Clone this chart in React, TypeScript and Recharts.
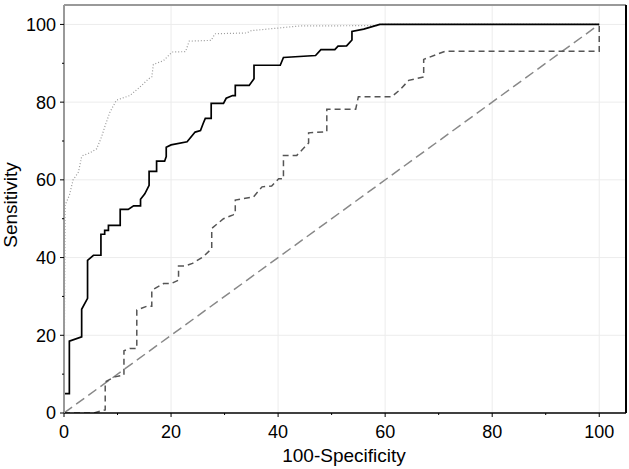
import React from 'react';
import {
  LineChart, Line, XAxis, YAxis, CartesianGrid, ReferenceLine, Label
} from 'recharts';

// ROC curves, [100-specificity, sensitivity]
const solidRoc: [number, number][] = [
  [0, 0], [0, 5], [1, 5], [1, 18.5], [3.3, 19.6], [3.3, 26.7], [4.4, 29.5], [4.4, 39.3],
  [5.5, 40.6], [6.9, 40.6], [6.9, 46], [7.6, 46], [7.6, 47], [8.3, 47], [8.3, 48.3],
  [10.5, 48.3], [10.5, 52.4], [12, 52.4], [13, 53.3], [14.3, 53.3], [14.3, 55], [15.1, 56.4],
  [15.9, 58.6], [15.9, 62.2], [17.3, 62.2], [17.3, 64.8], [18.8, 64.8], [19.1, 66],
  [19.1, 68.4], [20, 69], [23, 69.8], [24.5, 72.3], [25.5, 72.7], [26, 74.5], [26.4, 75.8],
  [27.5, 75.8], [27.5, 79.7], [29.8, 79.7], [30.3, 81], [31.5, 81.7], [32, 81.7], [32, 84.3],
  [34.6, 84.3], [35.5, 86], [35.5, 89.5], [40.4, 89.5], [41, 91.5], [47, 92], [48, 93.5],
  [50.6, 93.5], [51.2, 94.4], [52.8, 94.5], [53.8, 96], [53.8, 98.2], [56, 98.8], [59, 100],
  [100, 100],
];

const dottedRoc: [number, number][] = [
  [0, 0], [0.2, 53.5], [1, 56], [1.7, 60], [2.2, 61], [2.7, 62], [3.3, 66], [3.6, 66.3],
  [4.9, 67], [6.1, 68], [7, 71], [7.7, 74], [8.6, 77.5], [9.8, 80.5], [12.3, 81.7],
  [14.2, 83.9], [15.8, 86], [16.4, 86.5], [16.7, 89.7], [18.6, 90.7], [20.2, 92.9],
  [22.7, 93], [23.4, 95.7], [27.5, 95.9], [28.2, 97.6], [34.1, 97.8], [35, 98.4],
  [44, 99.6], [58.5, 99.7], [59, 100], [100, 100],
];

const dashedRoc: [number, number][] = [
  [0, 0], [5.5, 0], [7.7, 0.8], [7.7, 8], [9.5, 9.3], [11.2, 9.8], [11.2, 16], [12.3, 16.6],
  [13.6, 16.6], [13.6, 26.5], [15.5, 27.5], [16.4, 27.5], [16.4, 31.6], [18.6, 33.3],
  [20, 33.3], [21.4, 34.2], [21.4, 37.8], [22.5, 37.8], [24, 38.5], [26, 40.2], [27.6, 42.3],
  [27.6, 47.5], [29.8, 50], [31.6, 51], [32, 51.3], [32, 54.8], [35.4, 55.6], [37, 58.2],
  [38.8, 58.4], [40.1, 60.3], [41, 60.3], [41, 66.3], [43.5, 66.3], [45.7, 69.5],
  [45.7, 72.1], [49.1, 72.4], [49.1, 78.2], [54.5, 78.2], [55, 81.4], [61.2, 81.4],
  [62.8, 83.2], [64.4, 85.6], [67.2, 86.5], [67.2, 91], [71.2, 93.1], [100, 93.1], [100, 100],
];

const chanceLine: [number, number][] = [[0, 0], [100, 100]];

const axisTicks = [0, 10, 20, 30, 40, 50, 60, 70, 80, 90, 100];
const gridValues = [20, 40, 60, 80, 100];

const toRows = (pts: [number, number][]) => pts.map(([x, y]) => ({ x, y }));

const FONT = '"Liberation Sans", Arial, Helvetica, sans-serif';

const YTick = ({ x, y, payload }: any) => {
  const v = payload.value;
  const major = v % 20 === 0;
  return (
    <g>
      <line x1={x - (major ? 4 : 2)} x2={x} y1={y} y2={y} stroke="#000" />
      {major && (
        <text x={x - 8} y={y} dy="0.36em" textAnchor="end" fontSize={18} fontFamily={FONT} fill="#000">
          {v}
        </text>
      )}
    </g>
  );
};

const XTick = ({ x, y, payload }: any) => {
  const v = payload.value;
  const major = v % 20 === 0;
  return (
    <g>
      <line x1={x} x2={x} y1={y} y2={y + (major ? 4 : 2)} stroke="#000" />
      {major && (
        <text x={x} y={y + 25} textAnchor="middle" fontSize={18} fontFamily={FONT} fill="#000">
          {v}
        </text>
      )}
    </g>
  );
};

export default function App() {
  return (
    <div style={{ position: 'absolute', left: 0, top: 0, background: '#fff' }}>
      <LineChart width={629} height={469} margin={{ top: 5, right: 3, bottom: 0, left: 4 }}>
        <CartesianGrid
          stroke="#ececec"
          horizontalValues={gridValues}
          verticalValues={gridValues}
        />
        <XAxis
          dataKey="x"
          type="number"
          domain={[0, 105]}
          ticks={axisTicks}
          interval={0}
          height={56}
          tickSize={0}
          tickMargin={0}
          tickLine={false}
          tick={<XTick />}
          axisLine={{ stroke: '#000', strokeWidth: 1.5 }}
          allowDataOverflow
        >
          <Label
            content={() => (
              <text x={344} y={462} textAnchor="middle" fontSize={19} fontFamily={FONT} fill="#000">
                100-Specificity
              </text>
            )}
          />
        </XAxis>
        <YAxis
          dataKey="y"
          type="number"
          domain={[0, 105]}
          ticks={axisTicks}
          interval={0}
          width={60}
          tickSize={0}
          tickMargin={0}
          tickLine={false}
          tick={<YTick />}
          axisLine={{ stroke: '#999', strokeWidth: 2 }}
          allowDataOverflow
        >
          <Label
            content={() => (
              <text
                x={17}
                y={205}
                transform="rotate(-90 17 205)"
                textAnchor="middle"
                fontSize={19}
                fontFamily={FONT}
                fill="#000"
              >
                Sensitivity
              </text>
            )}
          />
        </YAxis>
        <ReferenceLine y={105} stroke="#999" strokeWidth={2} />
        <ReferenceLine x={105} stroke="#000" strokeWidth={2} />

        <Line data={toRows(chanceLine)} dataKey="y" type="linear" stroke="#888"
          strokeWidth={1.5} strokeDasharray="10 5" dot={false} isAnimationActive={false} />
        <Line data={toRows(dashedRoc)} dataKey="y" type="linear" stroke="#555"
          strokeWidth={1.5} strokeDasharray="6 4" dot={false} isAnimationActive={false} />
        <Line data={toRows(dottedRoc)} dataKey="y" type="linear" stroke="#999"
          strokeWidth={1.2} strokeDasharray="1 2" dot={false} isAnimationActive={false} />
        <Line data={toRows(solidRoc)} dataKey="y" type="linear" stroke="#000"
          strokeWidth={1.7} dot={false} isAnimationActive={false} />
      </LineChart>
    </div>
  );
}
